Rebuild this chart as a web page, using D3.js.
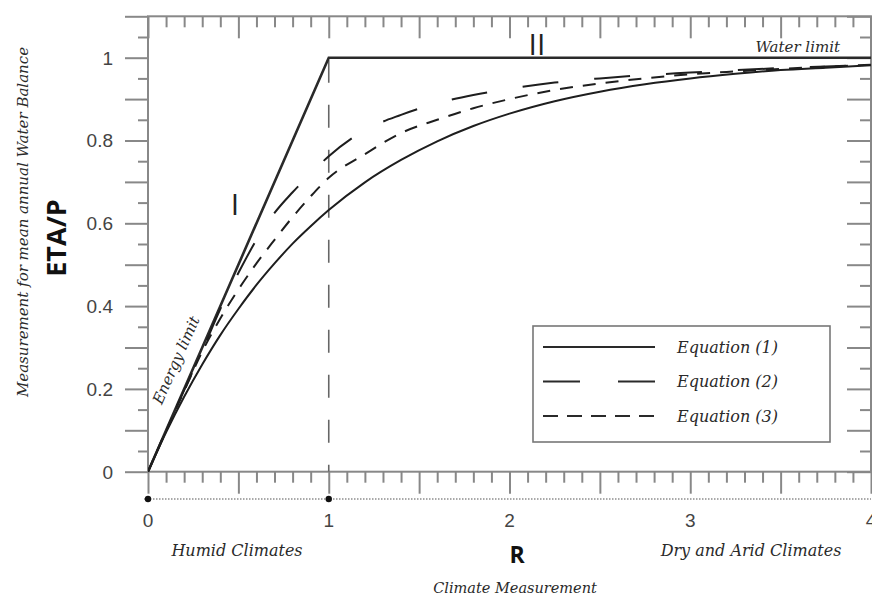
<!DOCTYPE html>
<html>
<head>
<meta charset="utf-8">
<script src="https://cdn.jsdelivr.net/npm/d3@7"></script>
<style>
  body { margin: 0; background: #fff; }
  svg { display: block; }
  .ser { font-family: "DejaVu Serif", serif; font-style: italic; fill: #2a2a2a; }
  .num { font-family: "Liberation Sans", Arial, sans-serif; fill: #444; }
</style>
</head>
<body>
<div id="chart"></div>
<script>
var rValues = [0, 0.1, 0.2, 0.3, 0.4, 0.5, 0.6, 0.7, 0.8, 0.9, 1.0, 1.2, 1.4, 1.6, 1.8, 2.0, 2.25, 2.5, 2.75, 3.0, 3.25, 3.5, 3.75, 4.0];
var eq1 = [0, 0.095, 0.181, 0.259, 0.330, 0.393, 0.451, 0.503, 0.551, 0.593, 0.632, 0.699, 0.753, 0.798, 0.835, 0.865, 0.895, 0.918, 0.936, 0.950, 0.961, 0.970, 0.976, 0.982];
var eq2 = [0, 0.100, 0.197, 0.292, 0.393, 0.480, 0.560, 0.625, 0.675, 0.720, 0.762, 0.825, 0.862, 0.890, 0.910, 0.925, 0.940, 0.950, 0.958, 0.964, 0.970, 0.975, 0.979, 0.983];
var eq3 = [0, 0.099, 0.195, 0.290, 0.370, 0.440, 0.503, 0.560, 0.615, 0.665, 0.710, 0.767, 0.818, 0.850, 0.878, 0.900, 0.922, 0.938, 0.950, 0.960, 0.967, 0.973, 0.978, 0.983];

// energy limit / water limit envelope
var limitR = [0, 1, 4];
var limitVal = [0, 1, 1];

var xTickLabels = [0, 1, 2, 3, 4];
var yTickLabels = [0, 0.2, 0.4, 0.6, 0.8, 1];
var legendNames = ["Equation (1)", "Equation (2)", "Equation (3)"];
var dashes = [null, "36,36", "13,10"];

var W = 872, H = 599;
var x0 = 148, x1 = 871, yTop = 16.3, yBot = 471.7;

var svg = d3.select('#chart').append('svg')
    .attr('width', W)
    .attr('height', H);

var x = d3.scaleLinear().domain([0, 4]).range([x0, x1]);
var y = d3.scaleLinear().domain([0, 1.1]).range([yBot, yTop]);

var axisCol = '#888';

// tick helpers
function drawAxis(axis, tx, ty) {
    var g = svg.append('g').attr('transform', 'translate(' + tx + ',' + ty + ')').call(axis);
    g.selectAll('line').attr('stroke', axisCol).attr('stroke-width', 2);
    g.select('.domain').remove();
    return g;
}
var xMinor = d3.range(0, 41).map(function(i){ return i / 10; }).filter(function(v, i){ return i % 5 !== 0; });
var xMajor = d3.range(0, 9).map(function(i){ return i / 2; });
var yMinor = d3.range(0, 23).map(function(i){ return i / 20; }).filter(function(v, i){ return i % 2 === 1; });
var yMajor = d3.range(0, 12).map(function(i){ return i / 10; });

// bottom (outward), top (inward)
drawAxis(d3.axisBottom(x).tickValues(xMinor).tickSize(11).tickFormat(''), 0, yBot);
drawAxis(d3.axisBottom(x).tickValues(xMajor).tickSize(22).tickFormat(''), 0, yBot);
drawAxis(d3.axisBottom(x).tickValues(xMinor).tickSize(11).tickFormat(''), 0, yTop);
drawAxis(d3.axisBottom(x).tickValues(xMajor).tickSize(22).tickFormat(''), 0, yTop);
// left (outward), right (inward)
drawAxis(d3.axisLeft(y).tickValues(yMinor).tickSize(10).tickFormat(''), x0, 0);
drawAxis(d3.axisLeft(y).tickValues(yMajor).tickSize(23).tickFormat(''), x0, 0);
drawAxis(d3.axisLeft(y).tickValues(yMinor).tickSize(11).tickFormat(''), x1, 0);
drawAxis(d3.axisLeft(y).tickValues(yMajor).tickSize(24).tickFormat(''), x1, 0);

// frame
svg.append('rect')
    .attr('x', x0).attr('y', yTop)
    .attr('width', x1 - x0).attr('height', yBot - yTop)
    .attr('fill', 'none').attr('stroke', axisCol).attr('stroke-width', 2);

// y tick labels
svg.append('g').selectAll('text').data(yTickLabels).enter().append('text')
    .attr('class', 'num')
    .attr('x', 113)
    .attr('y', function(d){ return y(d); })
    .attr('dy', '0.36em')
    .attr('text-anchor', 'end')
    .attr('font-size', 19)
    .text(function(d){ return d; });

// dotted line with markers under the x axis
var dotY = 499;
svg.append('line')
    .attr('x1', 144).attr('x2', x1).attr('y1', dotY).attr('y2', dotY)
    .attr('stroke', '#555').attr('stroke-width', 1.2).attr('stroke-dasharray', '1.5,1.5');
svg.selectAll('circle.mark').data([0, 1]).enter().append('circle')
    .attr('class', 'mark')
    .attr('cx', function(d){ return x(d); })
    .attr('cy', dotY).attr('r', 3.2).attr('fill', '#111');

// x tick labels
svg.append('g').selectAll('text').data(xTickLabels).enter().append('text')
    .attr('class', 'num')
    .attr('x', function(d){ return x(d); })
    .attr('y', 527)
    .attr('text-anchor', 'middle')
    .attr('font-size', 19)
    .text(function(d){ return d; });

// clip for curves
svg.append('clipPath').attr('id', 'plotclip').append('rect')
    .attr('x', x0).attr('y', yTop).attr('width', x1 - x0).attr('height', yBot - yTop);
var plot = svg.append('g').attr('clip-path', 'url(#plotclip)');

// vertical dashed line at R = 1
plot.append('line')
    .attr('x1', x(1)).attr('x2', x(1)).attr('y1', y(1) + 2).attr('y2', yBot)
    .attr('stroke', '#666').attr('stroke-width', 1.6).attr('stroke-dasharray', '23,22');

var line = d3.line()
    .x(function(d){ return x(d[0]); })
    .y(function(d){ return y(d[1]); })
    .curve(d3.curveMonotoneX);

// limits
plot.append('path')
    .datum(limitR.map(function(r, i){ return [r, limitVal[i]]; }))
    .attr('d', d3.line().x(function(d){ return x(d[0]); }).y(function(d){ return y(d[1]); }))
    .attr('fill', 'none').attr('stroke', '#2a2a2a').attr('stroke-width', 2.6);

var series = [eq1, eq2, eq3];
series.forEach(function(vals, k){
    plot.append('path')
        .datum(rValues.map(function(r, i){ return [r, vals[i]]; }))
        .attr('d', line)
        .attr('fill', 'none')
        .attr('stroke', '#1e1e1e')
        .attr('stroke-width', 2)
        .attr('stroke-dasharray', dashes[k]);
});

// annotations
svg.append('text').attr('x', 235).attr('y', 215)
    .attr('text-anchor', 'middle')
    .attr('font-family', '"Open Sans", sans-serif').attr('font-size', 30).attr('fill', '#222')
    .text('I');
svg.append('text').attr('x', 537).attr('y', 55)
    .attr('text-anchor', 'middle')
    .attr('font-family', '"Open Sans", sans-serif').attr('font-size', 30).attr('fill', '#222')
    .text('II');
svg.append('text').attr('class', 'ser').attr('x', 840).attr('y', 52)
    .attr('text-anchor', 'end').attr('font-size', 15)
    .text('Water limit');
svg.append('text').attr('class', 'ser')
    .attr('transform', 'translate(176,360) rotate(-66)')
    .attr('text-anchor', 'middle').attr('dy', '0.35em').attr('font-size', 15)
    .text('Energy limit');

// axis titles
svg.append('text')
    .attr('transform', 'translate(56,238) rotate(-90)')
    .attr('text-anchor', 'middle').attr('dy', '0.36em')
    .attr('font-family', '"Open Sans", sans-serif').attr('font-weight', 'bold')
    .attr('font-size', 27).attr('fill', '#111')
    .text('ETA/P');
svg.append('text').attr('class', 'ser')
    .attr('transform', 'translate(23,222) rotate(-90)')
    .attr('text-anchor', 'middle').attr('dy', '0.35em')
    .attr('font-size', 15)
    .text('Measurement for mean annual Water Balance');
svg.append('text')
    .attr('x', 517).attr('y', 563)
    .attr('text-anchor', 'middle')
    .attr('font-family', '"Open Sans", sans-serif').attr('font-weight', 'bold')
    .attr('font-size', 23).attr('fill', '#111')
    .text('R');
svg.append('text').attr('class', 'ser')
    .attr('x', 237).attr('y', 556).attr('text-anchor', 'middle').attr('font-size', 16)
    .text('Humid Climates');
svg.append('text').attr('class', 'ser')
    .attr('x', 751).attr('y', 556).attr('text-anchor', 'middle').attr('font-size', 16)
    .text('Dry and Arid Climates');
svg.append('text').attr('class', 'ser')
    .attr('x', 515).attr('y', 593).attr('text-anchor', 'middle').attr('font-size', 14.5)
    .text('Climate Measurement');

// legend
var lg = svg.append('g');
lg.append('rect')
    .attr('x', 533).attr('y', 326).attr('width', 297).attr('height', 116)
    .attr('fill', '#fff').attr('stroke', '#777').attr('stroke-width', 1.6);
legendNames.forEach(function(name, k){
    var ly = 347 + k * 34.5;
    lg.append('line')
        .attr('x1', 543).attr('x2', 655).attr('y1', ly).attr('y2', ly)
        .attr('stroke', '#2a2a2a').attr('stroke-width', 2)
        .attr('stroke-dasharray', k === 1 ? '37,38' : (k === 2 ? '15,9' : null));
    lg.append('text').attr('class', 'ser')
        .attr('x', 677).attr('y', ly).attr('dy', '0.35em')
        .attr('font-size', 16)
        .text(name);
});
</script>
</body>
</html>
